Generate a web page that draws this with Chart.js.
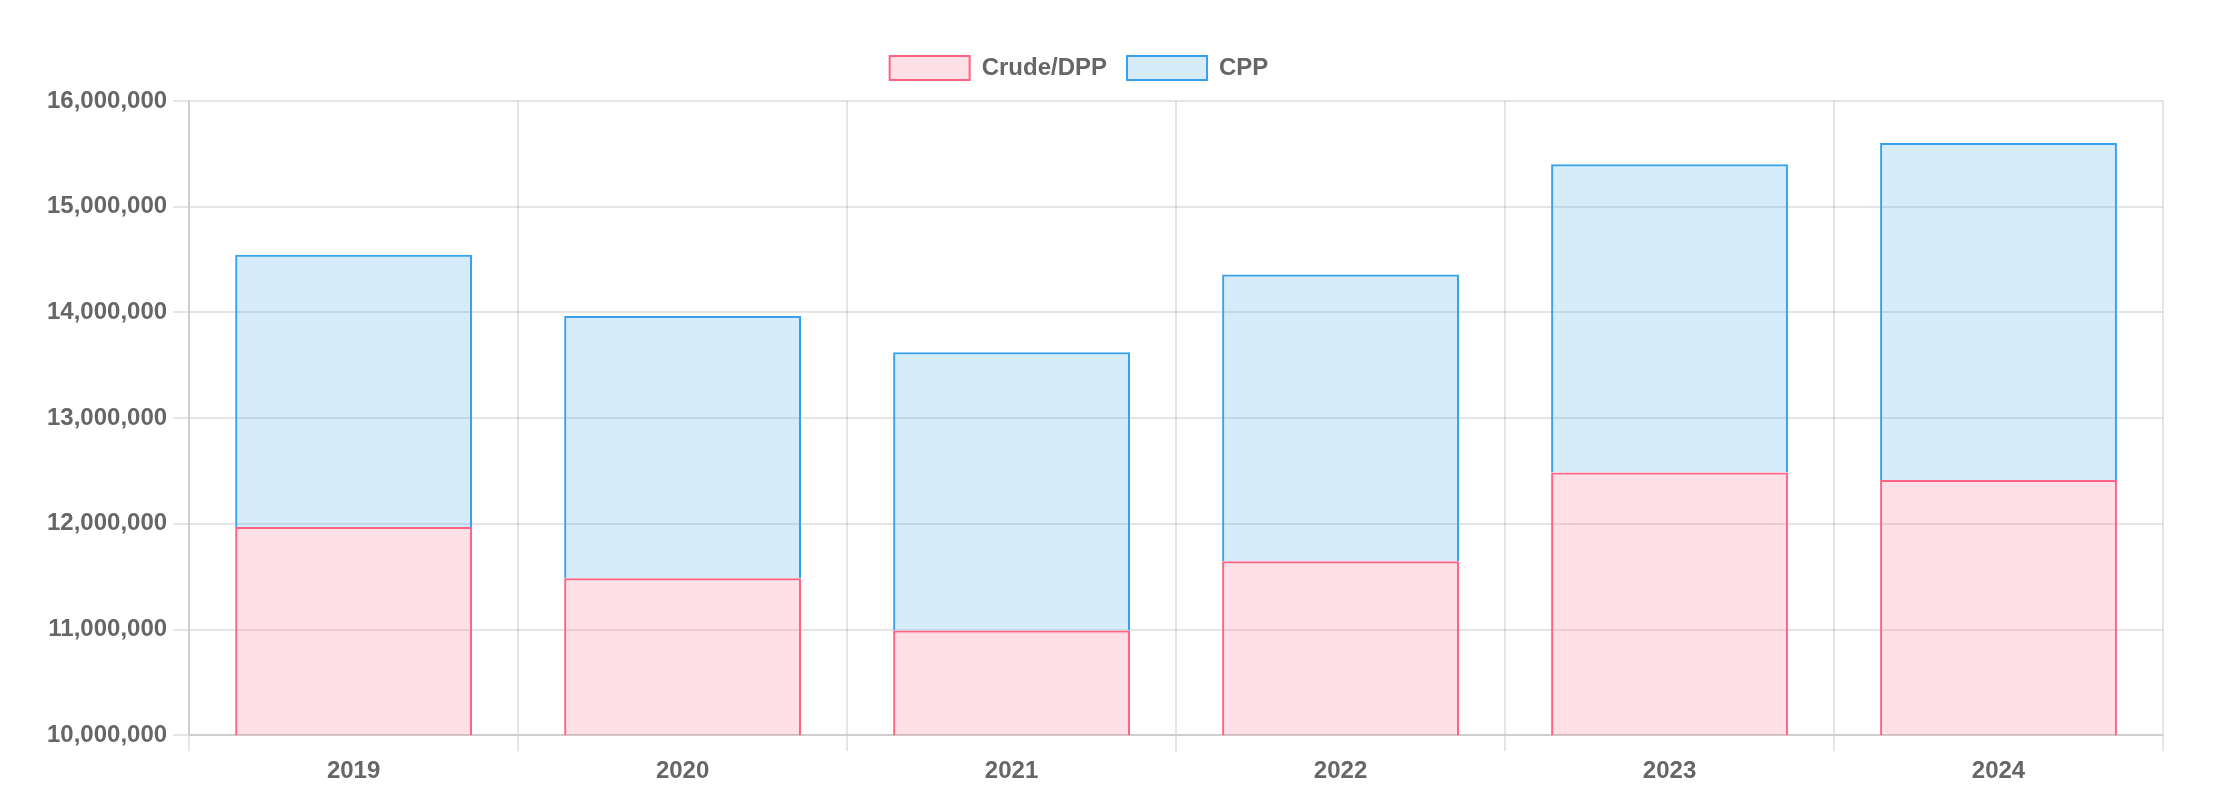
<!DOCTYPE html>
<html>
<head>
<meta charset="utf-8">
<script src="https://cdn.jsdelivr.net/npm/chart.js@4/dist/chart.umd.min.js"></script>
<style>
  html, body { margin: 0; padding: 0; background: #fff; }
  #wrap { width: 2214px; height: 808px; }
</style>
</head>
<body>
<div id="wrap"><canvas id="barchart"></canvas></div>
<script>
// tonnage by year
const years = ['2019', '2020', '2021', '2022', '2023', '2024'];
const crudeDpp = [11970000, 11485000, 10990000, 11645000, 12485000, 12415000];
const cpp = [2575000, 2481000, 2632000, 2713000, 2916000, 3188000];

const yMin = 10000000;
const yMax = 16000000;
const yStep = 1000000;

Chart.defaults.font.size = 24;
Chart.defaults.font.weight = 'bold';
Chart.defaults.color = '#666';

// a bit more room under the legend, and nudge it left
const legendGap = {
  id: 'legendGap',
  beforeInit(chart) {
    const fit = chart.legend.fit;
    chart.legend.fit = function () {
      fit.bind(chart.legend)();
      this.height += 11;
    };
  },
  afterLayout(chart) {
    chart.legend.left -= 23;
    chart.legend.right -= 23;
  }
};

const ctx = document.getElementById('barchart').getContext('2d');

const data = {
  labels: years,
  datasets: [{
    label: 'Crude/DPP',
    data: crudeDpp,
    backgroundColor: 'rgba(255, 99, 132, 0.2)',
    borderColor: 'rgb(255, 99, 132)',
    borderWidth: 2,
  }, {
    label: 'CPP',
    data: cpp,
    backgroundColor: 'rgba(54, 162, 235, 0.2)',
    borderColor: 'rgb(54, 162, 235)',
    borderWidth: 2,
  }]
};

const config = {
  type: 'bar',
  data: data,
  plugins: [legendGap],
  options: {
    responsive: true,
    maintainAspectRatio: false,
    animation: false,
    layout: {
      padding: { top: 36, left: 41, right: 51, bottom: 16 }
    },
    plugins: {
      legend: {
        position: 'top',
        labels: { boxWidth: 80, boxHeight: 24, padding: 20 }
      },
      tooltip: { enabled: false }
    },
    scales: {
      x: {
        stacked: true,
        grid: { lineWidth: 2, tickLength: 16 },
        border: { width: 2 },
        ticks: { padding: 6 }
      },
      y: {
        stacked: true,
        min: yMin,
        max: yMax,
        grid: { lineWidth: 2, tickLength: 16 },
        border: { width: 2 },
        ticks: { stepSize: yStep, padding: 6 }
      }
    }
  }
};

const myChart = new Chart(ctx, config);
</script>
</body>
</html>
